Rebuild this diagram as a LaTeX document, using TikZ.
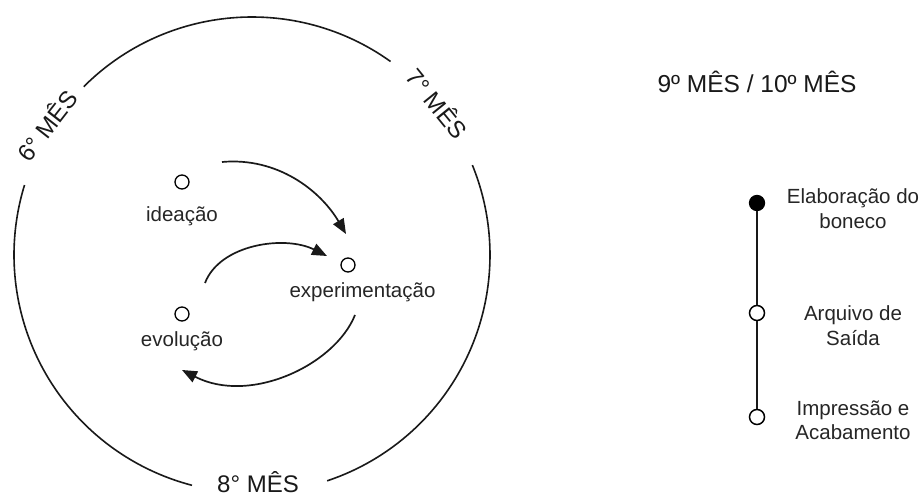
\documentclass[tikz,border=0pt]{standalone}
\usepackage{fontspec}
\setmainfont{Liberation Sans}
\usetikzlibrary{arrows.meta}
\tikzset{
  ring/.style={line width=1.6pt, black!90},
  flow/.style={line width=1.7pt, black!90, -{Triangle[length=15pt,width=12pt]}},
  dot/.style={circle, draw, line width=1.3pt, minimum size=14pt, inner sep=0pt, fill=white},
  fulldot/.style={circle, draw, fill=black, line width=1.3pt, minimum size=15pt, inner sep=0pt},
  opendot/.style={circle, draw, fill=white, line width=1.5pt, minimum size=15pt, inner sep=0pt},
  lbl/.style={font=\fontsize{20.5}{24.5}\selectfont, text=black!85, inner sep=0pt},
  month/.style={font=\fontsize{24}{28}\selectfont, text=black!90, inner sep=0pt},
}
\begin{document}
\begin{tikzpicture}[x=1pt,y=1pt]
\useasboundingbox (0,0) rectangle (923,500);
\fill[white] (0,0) rectangle (923,500);
% big circle, broken into three arcs
\coordinate (C) at (252,245);
\draw[ring] ([shift={(54.4:238pt)}]C) arc[start angle=54.4, end angle=135, radius=238pt];
\draw[ring] ([shift={(162.9:238pt)}]C) arc[start angle=162.9, end angle=255.4, radius=238pt];
\draw[ring] ([shift={(-71.6:238pt)}]C) arc[start angle=-71.6, end angle=22.2, radius=238pt];
% month labels
\node[month, rotate=52] (m6) at (46,375) {6° MÊS};
\node[month, rotate=-51] (m7) at (438,397) {7° MÊS};
\node[month, anchor=base] (m8) at (258,7) {8° MÊS};
% inner cycle
\node[dot] (ide) at (182,318) {};
\node[dot] (exp) at (348,235) {};
\node[dot] (evo) at (182,186) {};
\node[lbl, anchor=base] (ideL) at (182,278) {ideação};
\node[lbl, anchor=base] (expL) at (362.5,202) {experimentação};
\node[lbl, anchor=base] (evoL) at (182,153) {evolução};
\coordinate (a1s) at (222,338);
\coordinate (a1e) at (346,266);
\coordinate (a2s) at (205,217);
\coordinate (a2e) at (327,244);
\coordinate (a3s) at (355,185);
\coordinate (a3e) at (182,130);
\draw[flow] (a1s) .. controls (277,343) and (320,310) .. (a1e);
\draw[flow] (a2s) .. controls (220,256) and (285,265) .. (a2e);
\draw[flow] (a3s) .. controls (335,135) and (250,95) .. (a3e);
% right timeline
\node[month, font=\fontsize{24.5}{28}\selectfont, anchor=base] (title) at (757,407) {9º MÊS / 10º MÊS};
\node[fulldot] (t1) at (757,297) {};
\node[opendot] (t2) at (757,187) {};
\node[opendot] (t3) at (757,83) {};
\draw[line width=1.5pt, black!90] (t1) -- (t2) (t2) -- (t3);
\node[lbl, align=center] (t1L) at (853,291.5) {Elaboração do\\boneco};
\node[lbl, align=center] (t2L) at (853,174.5) {Arquivo de\\Saída};
\node[lbl, align=center] (t3L) at (853,79.5) {Impressão e\\Acabamento};
\end{tikzpicture}
\end{document}
